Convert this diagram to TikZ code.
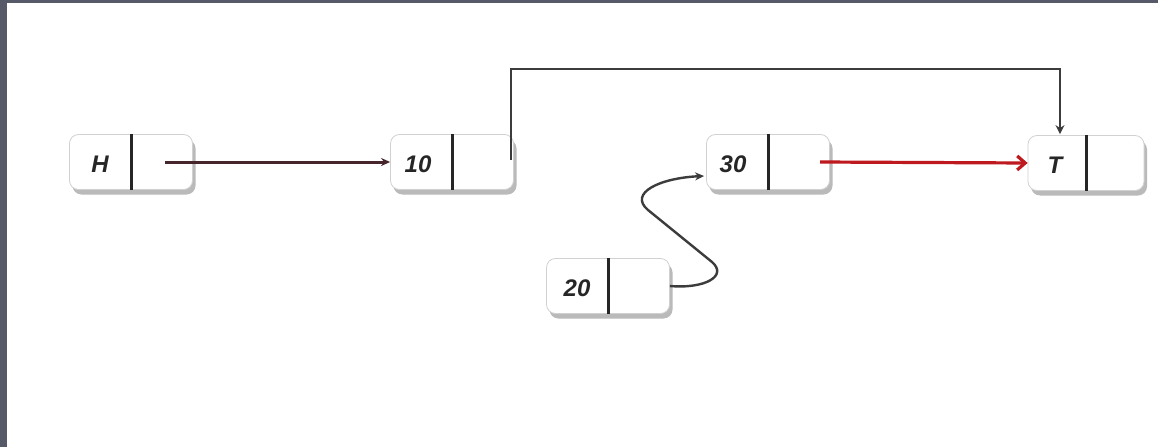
\documentclass[tikz,border=0pt]{standalone}
\usepackage{fontspec}
\setsansfont{Liberation Sans}
\usetikzlibrary{shadows,arrows.meta,calc}
\definecolor{frame}{RGB}{86,89,104}
\definecolor{linkdark}{RGB}{70,38,44}
\definecolor{linkgray}{RGB}{60,60,60}
\definecolor{linkred}{RGB}{190,25,30}
\begin{document}
\begin{tikzpicture}[x=1pt,y=1pt,
  cell/.style={draw=black!18, line width=0.8pt, fill=white, rounded corners=9pt,
    minimum width=123pt, minimum height=55pt, inner sep=0pt,
    drop shadow={shadow xshift=3pt,shadow yshift=-5pt,fill=black!45,opacity=0.6}},
  divider/.style={line width=3pt, black!85},
  val/.style={font=\sffamily\bfseries\itshape\fontsize{24}{24}\selectfont, text=black!85, inner sep=0pt},
  link/.style={line width=3pt, draw=linkdark, -{Stealth[length=9pt,width=8pt]}},
  toplink/.style={line width=2.2pt, draw=linkgray, -{Stealth[length=9pt,width=9pt]}},
  redlink/.style={line width=3.2pt, draw=linkred, -{Straight Barb[length=8pt,width=14pt]}},
  curvy/.style={line width=2.4pt, draw=linkgray, -{Stealth[length=9pt,width=8pt]}}
]
\useasboundingbox (0,0) rectangle (1158,-447);
\fill[white] (0,0) rectangle (1158,-447);
\fill[frame] (0,0) rectangle (1158,-3);
\fill[frame] (0,0) rectangle (7,-447);

% nodes
\node[cell] (H) at (131,-162) {};
\draw[divider] (H.north) -- (H.south);
\node[val] (Hv) at ([xshift=-31pt,yshift=-2pt]H.center) {H};

\node[cell] (N10) at (452,-162) {};
\draw[divider] (N10.north) -- (N10.south);
\node[val] (N10v) at ([xshift=-34pt,yshift=-2pt]N10.center) {10};

\node[cell] (N30) at (768,-162) {};
\draw[divider] (N30.north) -- (N30.south);
\node[val] (N30v) at ([xshift=-35pt,yshift=-2pt]N30.center) {30};

\node[cell, minimum width=116pt] (T) at (1086,-163) {};
\draw[divider] (T.north) -- (T.south);
\node[val] (Tv) at ([xshift=-31pt,yshift=-2pt]T.center) {T};

\node[cell] (N20) at (608,-286) {};
\draw[divider] (N20.north) -- (N20.south);
\node[val] (N20v) at ([xshift=-31pt,yshift=-2pt]N20.center) {20};

% connectors
\draw[link] ([xshift=34pt]H.center) -- (N10.west);

\coordinate (top) at ($(T.north)+(-26pt,66pt)$);
\draw[toplink] ([xshift=-3pt,yshift=2pt]N10.east) |- (top) -- ([xshift=-26pt,yshift=1pt]T.north);

\draw[redlink] ([xshift=52pt]N30.center) -- (T.west);

\draw[curvy] (N20.east) .. controls (705,-289) and (728,-276) .. (712,-262)
  -- (648,-210) .. controls (628,-193) and (660,-178) .. ([xshift=-2pt,yshift=-14pt]N30.west);
\end{tikzpicture}
\end{document}
